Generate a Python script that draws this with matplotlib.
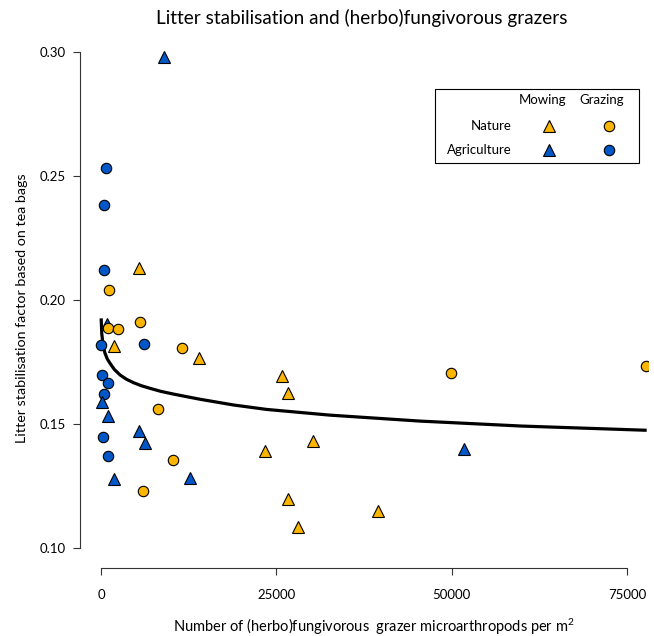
import matplotlib
matplotlib.use("Agg")
import matplotlib.pyplot as plt
from matplotlib.patches import Rectangle

plt.rcParams['font.family'] = ['Lato', 'DejaVu Sans']
plt.rcParams['mathtext.default'] = 'regular'

ORANGE = "#FBB400"
BLUE = "#0057C8"

# Nature, mowing (orange triangles)
nat_mow_x = [5456, 1850, 13970, 25770, 26710, 30180, 23390, 26710, 28090, 39540]
nat_mow_y = [0.2130, 0.1815, 0.1765, 0.1694, 0.1626, 0.1433, 0.1392, 0.1200, 0.1086, 0.1150]

# Nature, grazing (orange circles)
nat_graz_x = [1190, 1040, 2370, 5560, 11600, 8160, 10260, 5980, 49860, 77660]
nat_graz_y = [0.2040, 0.1886, 0.1882, 0.1910, 0.1808, 0.1559, 0.1356, 0.1230, 0.1707, 0.1734]

# Agriculture, mowing (blue triangles)
agr_mow_x = [8980, 810, 190, 1040, 5460, 6310, 1850, 12630, 51800]
agr_mow_y = [0.2981, 0.1903, 0.1590, 0.1534, 0.1472, 0.1423, 0.1278, 0.1281, 0.1398]

# Agriculture, grazing (blue circles)
agr_graz_x = [712, 470, 470, 0, 6170, 100, 1040, 470, 330, 1040]
agr_graz_y = [0.2533, 0.2383, 0.2122, 0.1819, 0.1823, 0.1698, 0.1664, 0.1620, 0.1446, 0.1371]

# Fitted curve
curve_x = [20, 100, 300, 570, 900, 1280, 1900, 2710, 3600, 4610, 5700, 6990, 8500,
           10310, 12100, 14120, 16400, 18870, 23620, 32650, 45490, 60000, 77810]
curve_y = [0.1926, 0.1866, 0.1815, 0.1785, 0.1762, 0.1745, 0.1720, 0.1698, 0.1681,
           0.1667, 0.1655, 0.1644, 0.1632, 0.1621, 0.1611, 0.1600, 0.1589, 0.1577,
           0.1559, 0.1536, 0.1512, 0.1492, 0.1475]

x_ticks = [0, 25000, 50000, 75000]
y_ticks = [0.10, 0.15, 0.20, 0.25, 0.30]

W, H = 654, 636
fig = plt.figure(figsize=(W / 100, H / 100), dpi=100)
ax = fig.add_axes([80 / W, 68 / H, 568 / W, 536 / H])
ax.set_xlim(-3000, 78000)
ax.set_ylim(0.092, 0.308)

ax.plot(curve_x, curve_y, color='black', lw=2.3, zorder=2,
        solid_capstyle='butt', solid_joinstyle='round')

ms = 7.5
mew = 0.8
ax.plot(agr_graz_x, agr_graz_y, 'o', ms=ms, mfc=BLUE, mec='black', mew=mew, ls='none', zorder=3)
ax.plot(agr_mow_x, agr_mow_y, '^', ms=ms + 0.8, mfc=BLUE, mec='black', mew=mew, ls='none', zorder=3)
ax.plot(nat_graz_x, nat_graz_y, 'o', ms=ms, mfc=ORANGE, mec='black', mew=mew, ls='none', zorder=3)
ax.plot(nat_mow_x, nat_mow_y, '^', ms=ms + 0.8, mfc=ORANGE, mec='black', mew=mew, ls='none', zorder=3)

for s in ['top', 'right']:
    ax.spines[s].set_visible(False)
ax.spines['left'].set_bounds(0.10, 0.30)
ax.spines['bottom'].set_bounds(0, 75000)
for s in ['left', 'bottom']:
    ax.spines[s].set_color('#333333')
    ax.spines[s].set_linewidth(0.8)

ax.set_xticks(x_ticks)
ax.set_xticklabels([str(v) for v in x_ticks])
ax.set_yticks(y_ticks)
ax.set_yticklabels([f"{v:.2f}" for v in y_ticks])
ax.tick_params(axis='both', direction='out', length=5, width=0.8, color='#333333', labelsize=9.5)
ax.tick_params(axis='x', pad=10)
ax.tick_params(axis='y', pad=5)

title = fig.text(362 / W, 1 - 18 / H, "Litter stabilisation and (herbo)fungivorous grazers",
                 ha='center', va='center', fontsize=12.5)
xlab = fig.text(374 / W, 1 - 627 / H, "Number of (herbo)fungivorous  grazer microarthropods per m$^2$",
                ha='center', va='center', fontsize=10.5)
ylab = fig.text(22 / W, 1 - 308 / H, "Litter stabilisation factor based on tea bags",
                ha='center', va='center', rotation=90, fontsize=10)


def fit(t, target, vertical=False):
    r = fig.canvas.get_renderer()
    bb = t.get_window_extent(r)
    size = bb.height if vertical else bb.width
    t.set_fontsize(t.get_fontsize() * target / size)


fit(title, 410)
fit(ylab, 268, vertical=True)

# Legend box
fig.patches.append(Rectangle((435 / W, 1 - 163 / H), (639 - 435) / W, (163 - 89) / H,
                             transform=fig.transFigure, fill=False, ec='black', lw=0.8))
fig.text(543 / W, 1 - 100 / H, "Mowing", ha='center', va='center', fontsize=9.5)
fig.text(602 / W, 1 - 100 / H, "Grazing", ha='center', va='center', fontsize=9.5)
fig.text(512 / W, 1 - 126 / H, "Nature", ha='right', va='center', fontsize=9.5)
fig.text(512 / W, 1 - 150 / H, "Agriculture", ha='right', va='center', fontsize=9.5)
leg = fig.add_axes([0, 0, 1, 1], facecolor='none')
leg.set_xlim(0, W)
leg.set_ylim(H, 0)
leg.axis('off')
leg.plot([549], [126], '^', ms=ms + 0.8, mfc=ORANGE, mec='black', mew=mew)
leg.plot([609], [126], 'o', ms=ms, mfc=ORANGE, mec='black', mew=mew)
leg.plot([549], [150], '^', ms=ms + 0.8, mfc=BLUE, mec='black', mew=mew)
leg.plot([609], [150], 'o', ms=ms, mfc=BLUE, mec='black', mew=mew)

fig.savefig("out.png", dpi=100)
